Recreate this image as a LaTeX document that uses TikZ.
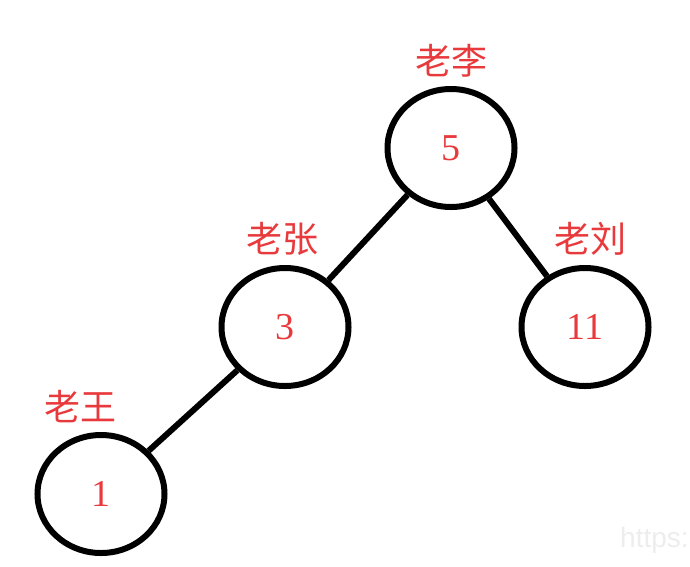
\documentclass[tikz,border=0pt]{standalone}
\usepackage{fontspec}
\setmainfont{Liberation Serif}
\newfontfamily\cjkfont{Noto Sans CJK SC}
\newfontfamily\wmfont{Liberation Sans}
\usepackage{tikz}
\usetikzlibrary{positioning, shapes.geometric}

\definecolor{keyred}{RGB}{232,58,60}

\begin{document}
\begin{tikzpicture}[x=1pt, y=-1pt,
        treenode/.style={draw, ellipse, line width=6pt, minimum width=127pt, minimum height=118pt, inner sep=0pt, text=keyred, font=\fontsize{38}{38}\selectfont},
        namelabel/.style={text=keyred, inner sep=0pt, font=\cjkfont\fontsize{36}{36}\selectfont},
        edge/.style={line width=6pt}]
        \useasboundingbox (0,0) rectangle (690,566);

        % Nodes of the tree
        \node [treenode] (n5) at (451,148) {5};
        \node [treenode] (n3) at (285,327) {3};
        \node [treenode] (n11) at (585,327) {11};
        \node [treenode] (n1) at (101,494) {1};

        % Names above each node
        \node [namelabel, above=9pt of n5] (l5) {老李};
        \node [namelabel, above=9pt of n3, xshift=-3pt] (l3) {老张};
        \node [namelabel, above=9pt of n11, xshift=5pt] (l11) {老刘};
        \node [namelabel, above=9pt of n1, xshift=-21pt] (l1) {老王};

        % Edges
        \draw [edge] (n5) -- (n3);
        \draw [edge] (n5) -- (n11);
        \draw [edge] (n3) -- (n1);

        % Watermark
        \node [anchor=west, text=black!7, inner sep=0pt, font=\wmfont\fontsize{28}{28}\selectfont] (wm) at (620,540) {https:};
\end{tikzpicture}
\end{document}
